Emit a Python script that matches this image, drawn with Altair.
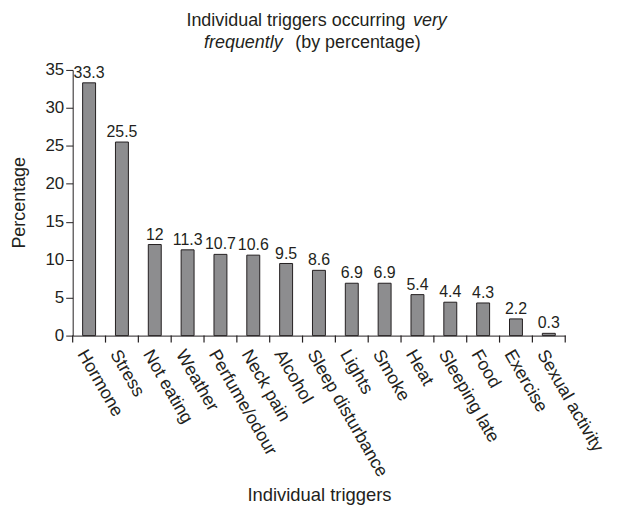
import altair as alt
import pandas as pd

triggers = ["Hormone", "Stress", "Not eating", "Weather", "Perfume/odour", "Neck pain",
            "Alcohol", "Sleep disturbance", "Lights", "Smoke", "Heat", "Sleeping late",
            "Food", "Exercise", "Sexual activity"]
percentages = [33.3, 25.5, 12, 11.3, 10.7, 10.6, 9.5, 8.6, 6.9, 6.9, 5.4, 4.4, 4.3, 2.2, 0.3]
y_ticks = [0, 5, 10, 15, 20, 25, 30, 35]

df = pd.DataFrame({
    "trigger": triggers,
    "pct": percentages,
    "label": [f"{v:g}" for v in percentages],
})

title_parts = pd.DataFrame({
    "text": ["Individual triggers occurring", "very", "frequently", "(by percentage)"],
    "style": ["normal", "italic", "italic", "normal"],
    "tx": [114.3, 342.0, 132.0, 223.7],
    "ty": [-44.0, -44.0, -22.3, -22.3],
})

INK = "#231f20"
FONT = "Liberation Sans"

x_enc = alt.X(
    "trigger:N",
    sort=triggers,
    scale=alt.Scale(paddingInner=0, paddingOuter=0),
    axis=alt.Axis(
        title="Individual triggers",
        titleFontSize=18.5,
        titleFontWeight="normal",
        titleColor=INK,
        titleFont=FONT,
        titleY=166,
        titleBaseline="alphabetic",
        labelAngle=60,
        labelAlign="left",
        labelBaseline="top",
        labelFontSize=18,
        labelFont=FONT,
        labelColor=INK,
        labelPadding=11,
        labelOverlap=False,
        labelLimit=300,
        labelFlush=False,
        ticks=False,
        domainColor=INK,
        grid=False,
    ),
)

y_enc = alt.Y(
    "pct:Q",
    scale=alt.Scale(domain=[0, 35], nice=False, zero=True),
    axis=alt.Axis(
        title="Percentage",
        titleFontSize=18,
        titleFontWeight="normal",
        titleColor=INK,
        titleFont=FONT,
        titleX=-48,
        titleY=133,
        titleBaseline="alphabetic",
        values=y_ticks,
        labelOverlap=False,
        labelFlush=False,
        labelFontSize=17,
        labelFont=FONT,
        labelColor=INK,
        labelPadding=2,
        ticks=True,
        tickSize=7,
        tickColor=INK,
        domainColor=INK,
        grid=False,
    ),
)

base = alt.Chart(df).encode(x=x_enc, y=y_enc)

bars = base.mark_bar(size=13, color="#8d8d8f", stroke=INK, strokeWidth=1)

values = base.mark_text(
    baseline="alphabetic", dy=-5, fontSize=16, font=FONT, color=INK
).encode(text="label:N")

# band-boundary ticks below the x axis (start of each band, plus the end of the last)
ticks_start = alt.Chart(df).mark_rule(color=INK, strokeWidth=1.2).encode(
    x=alt.X("trigger:N", sort=triggers, bandPosition=0),
    y=alt.value(267),
    y2=alt.value(274),
)
ticks_end = alt.Chart(df).transform_filter(
    alt.datum.trigger == triggers[-1]
).mark_rule(color=INK, strokeWidth=1.2).encode(
    x=alt.X("trigger:N", sort=triggers, bandPosition=1),
    y=alt.value(267),
    y2=alt.value(274),
)

title_normal = alt.Chart(title_parts).transform_filter(
    alt.datum.style == "normal"
).mark_text(
    align="left", baseline="alphabetic", fontSize=18, font=FONT, color=INK
).encode(
    x=alt.X("tx:Q", scale=None, axis=None),
    y=alt.Y("ty:Q", scale=None, axis=None),
    text="text:N",
)

title_italic = alt.Chart(title_parts).transform_filter(
    alt.datum.style == "italic"
).mark_text(
    align="left", baseline="alphabetic", fontSize=18, font=FONT, color=INK,
    fontStyle="italic"
).encode(
    x=alt.X("tx:Q", scale=None, axis=None),
    y=alt.Y("ty:Q", scale=None, axis=None),
    text="text:N",
)

chart = alt.layer(bars, values, ticks_start, ticks_end, title_normal, title_italic).properties(
    width=495,
    height=267,
    autosize=alt.AutoSizeParams(type="none"),
    padding={"left": 65, "top": 61, "right": 45, "bottom": 171},
    background="white",
).configure_view(stroke=None)

chart.save("out.html", embed_options={"renderer": "svg", "actions": False})
